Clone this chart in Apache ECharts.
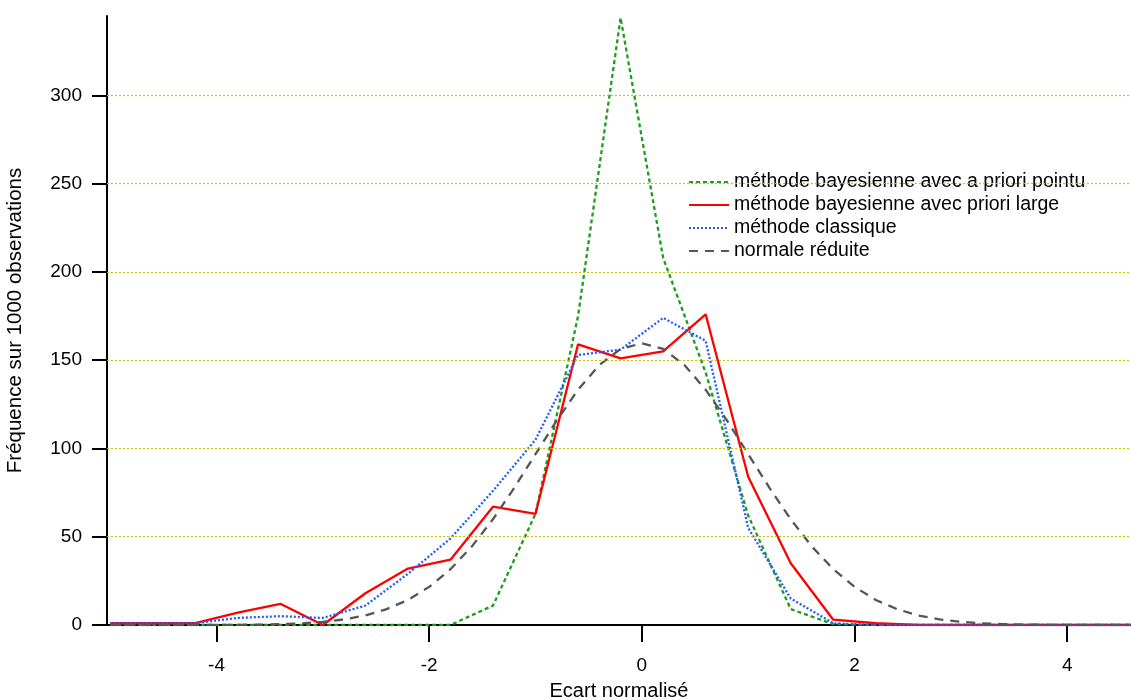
<!DOCTYPE html>
<html>
<head>
<meta charset="utf-8">
<script src="https://cdn.jsdelivr.net/npm/echarts@6/dist/echarts.min.js"></script>
<style>
html, body { margin: 0; padding: 0; background: #fff; }
#chart { width: 1131px; height: 700px; }
</style>
</head>
<body>
<div id="chart"></div>
<script>
// abscisses des classes (pas 0.4)
var xs = [-5.0, -4.6, -4.2, -3.8, -3.4, -3.0, -2.6, -2.2, -1.8, -1.4, -1.0, -0.6, -0.2,
          0.2, 0.6, 1.0, 1.4, 1.8, 2.2, 2.6, 3.0, 3.4, 3.8, 4.2, 4.6];
var pointu = [0, 0, 0, 0, 0, 0, 0, 0, 0, 11, 63, 175, 344, 208, 143, 62, 9, 0.5, 0, 0, 0, 0, 0, 0, 0];
var large = [1, 1, 1, 7, 12, 0, 18, 32, 37, 67, 63, 159, 151, 155, 176, 84, 35, 3, 1, 0, 0, 0, 0, 0, 0];
var classique = [1, 1, 1, 4, 5, 4, 11, 29, 49, 76, 105, 153, 156, 174, 161, 55, 15, 1, 0, 0, 0, 0, 0, 0, 0];

// courbe normale (pas 0.2)
var xsNorm = [-5.0, -4.8, -4.6, -4.4, -4.2, -4.0, -3.8, -3.6, -3.4, -3.2, -3.0, -2.8, -2.6, -2.4, -2.2,
              -2.0, -1.8, -1.6, -1.4, -1.2, -1.0, -0.8, -0.6, -0.4, -0.2, 0.0, 0.2, 0.4, 0.6, 0.8,
              1.0, 1.2, 1.4, 1.6, 1.8, 2.0, 2.2, 2.4, 2.6, 2.8, 3.0, 3.2, 3.4, 3.6, 3.8, 4.0, 4.2, 4.4, 4.6];
var normale = [0, 0, 0, 0, 0, 0, 0.1, 0.2, 0.5, 0.9, 1.8, 3.2, 5.4, 9, 14.2,
               21.6, 31.6, 44.4, 59.9, 77.7, 96.8, 115.9, 133.3, 147.3, 156.4, 159.6, 156.4, 147.3, 133.3, 115.9,
               96.8, 77.7, 59.9, 44.4, 31.6, 21.6, 14.2, 9, 5.4, 3.2, 1.8, 0.9, 0.5, 0.2, 0.1, 0, 0, 0, 0];

var xTicks = [-4, -2, 0, 2, 4];
var yTicks = [0, 50, 100, 150, 200, 250, 300];
var gridValues = [50, 100, 150, 200, 250, 300];

var names = [
    'méthode bayesienne avec a priori pointu',
    'méthode bayesienne avec priori large',
    'méthode classique',
    'normale réduite'
];

function pairs(x, y) {
    return x.map(function (v, i) { return [v, y[i]]; });
}

var chart = echarts.init(document.getElementById('chart'));
var font = 'Liberation Sans, Arial, sans-serif';

var option = {
    animation: false,
    textStyle: { fontFamily: font },
    grid: { left: 107, right: 0, top: 16, bottom: 75, outerBoundsMode: 'none', containLabel: false },
    legend: {
        data: names,
        orient: 'vertical',
        left: 683,
        top: 167,
        itemWidth: 40,
        itemHeight: 14,
        itemGap: 3,
        itemStyle: { opacity: 0 },
        textStyle: { fontSize: 19.5, color: '#000', fontFamily: font }
    },
    xAxis: {
        type: 'value',
        min: -5.03,
        max: 4.6,
        name: 'Ecart normalisé',
        nameLocation: 'middle',
        nameGap: 56,
        nameTextStyle: { fontSize: 20, color: '#000', fontFamily: font },
        axisLine: { onZero: false, lineStyle: { color: '#000', width: 2 } },
        axisTick: { customValues: xTicks, length: 17, lineStyle: { color: '#000', width: 2 } },
        axisLabel: { customValues: xTicks, fontSize: 19, color: '#000', margin: 31 },
        splitLine: { show: false }
    },
    yAxis: {
        type: 'value',
        min: 0,
        max: 345,
        name: 'Fréquence sur 1000 observations',
        nameLocation: 'middle',
        nameGap: 81,
        nameTextStyle: { fontSize: 20.5, color: '#000', fontFamily: font },
        axisLine: { show: true, onZero: false, lineStyle: { color: '#000', width: 2 } },
        axisTick: { show: true, customValues: yTicks, length: 15, lineStyle: { color: '#000', width: 2 } },
        axisLabel: { customValues: yTicks, fontSize: 19, color: '#000', margin: 25 },
        splitLine: { show: false }
    },
    series: [
        {
            type: 'line',
            data: [],
            z: 1,
            silent: true,
            markLine: {
                silent: true,
                symbol: ['none', 'none'],
                label: { show: false },
                lineStyle: { color: '#c8c000', type: [2, 2], width: 1.2 },
                data: gridValues.map(function (v) { return { yAxis: v }; })
            }
        },
        {
            name: names[0],
            type: 'line',
            data: pairs(xs, pointu),
            symbol: 'none',
            color: '#1c9c1c',
            lineStyle: { color: '#1c9c1c', width: 2.3, type: [4, 3] },
            z: 3
        },
        {
            name: names[1],
            type: 'line',
            data: pairs(xs, large),
            symbol: 'none',
            color: '#ff0000',
            lineStyle: { color: '#ff0000', width: 2.3, type: 'solid' },
            z: 3
        },
        {
            name: names[2],
            type: 'line',
            data: pairs(xs, classique),
            symbol: 'none',
            color: '#1f5cff',
            lineStyle: { color: '#1f5cff', width: 2.3, type: [2, 2] },
            z: 3
        },
        {
            name: names[3],
            type: 'line',
            data: pairs(xsNorm, normale),
            symbol: 'none',
            color: '#555555',
            lineStyle: { color: '#555555', width: 2.3, type: [9, 7] },
            z: 3
        }
    ]
};

chart.setOption(option);
</script>
</body>
</html>
